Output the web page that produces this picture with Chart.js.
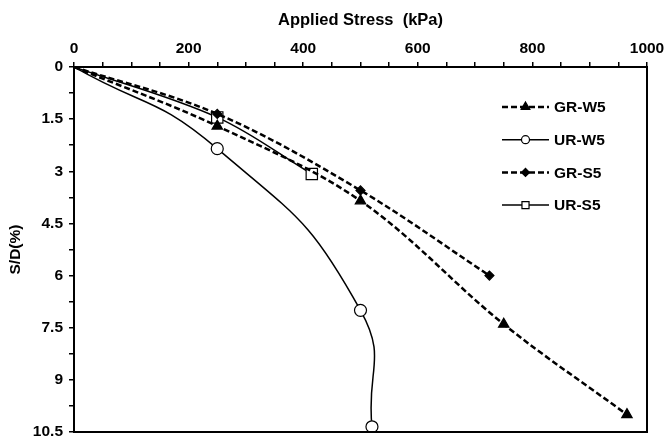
<!DOCTYPE html>
<html>
<head>
<meta charset="utf-8">
<script src="https://cdn.jsdelivr.net/npm/chart.js@4.4.0/dist/chart.umd.min.js"></script>
<style>
  html, body { margin: 0; padding: 0; background: #fff; overflow: hidden; }
  #wrap { position: relative; width: 666px; height: 437px; }
  canvas { display: block; }
  #frame { position: absolute; border: 2px solid #000; box-sizing: border-box; pointer-events: none; }
</style>
</head>
<body>
<div id="wrap">
  <canvas id="chart" width="666" height="437"></canvas>
  <div id="frame"></div>
</div>
<script>
// values
const seriesNames = ['GR-W5', 'UR-W5', 'GR-S5', 'UR-S5'];

const grW5Stress = [0, 250, 500, 750, 965];
const grW5Settle = [0, 1.7, 3.85, 7.4, 10.0];

const urW5Stress = [0, 250, 500, 520];
const urW5Settle = [0, 2.35, 7.0, 10.35];

const grS5Stress = [0, 250, 500, 725];
const grS5Settle = [0, 1.35, 3.55, 6.0];

const urS5Stress = [0, 250, 415];
const urS5Settle = [0, 1.45, 3.08];

const xTickLabels = [0, 200, 400, 600, 800, 1000];
const yTickLabels = [0, 1.5, 3, 4.5, 6, 7.5, 9, 10.5];

const FONT = '"Liberation Sans", Arial, sans-serif';

function toPoints(xs, ys) {
  return xs.map((x, i) => ({ x: x, y: ys[i] }));
}

// marker looks, reused by the legend
const styles = [
  { dash: [6, 3], width: 2.5, point: 'triangle', radius: 6, fill: '#000', legendRadius: 5, tension: 0.35 },
  { dash: [], width: 1.5, point: 'circle', radius: 6, fill: '#fff', legendRadius: 4, tension: 0.5 },
  { dash: [6, 3], width: 2.5, point: 'rectRot', radius: 4.5, fill: '#000', legendRadius: 4, tension: 0.35 },
  { dash: [], width: 1.5, point: 'rect', radius: 8, fill: '#fff', legendRadius: 5, tension: 0.35 }
];

const seriesData = [
  toPoints(grW5Stress, grW5Settle),
  toPoints(urW5Stress, urW5Settle),
  toPoints(grS5Stress, grS5Settle),
  toPoints(urS5Stress, urS5Settle)
];

const datasets = seriesNames.map((name, i) => ({
  label: name,
  data: seriesData[i],
  showLine: true,
  tension: styles[i].tension,
  borderColor: '#000',
  borderWidth: styles[i].width,
  borderDash: styles[i].dash,
  pointStyle: styles[i].point,
  pointRadius: ctx => ctx.dataIndex === 0 ? 0 : styles[i].radius,
  pointBackgroundColor: styles[i].fill,
  pointBorderColor: '#000',
  pointBorderWidth: 1.2
}));

// right and bottom sides of the frame + Excel-like legend
const framePlugin = {
  id: 'frameAndLegend',
  afterDraw(chart) {
    const ctx = chart.ctx;
    const a = chart.chartArea;
    ctx.save();
    ctx.fillStyle = '#000';
    ctx.fillRect(Math.round(a.right) - 1, Math.round(a.top) - 1, 2, Math.round(a.bottom - a.top) + 2);
    ctx.fillRect(Math.round(a.left) - 1, Math.round(a.bottom) - 1, Math.round(a.right - a.left) + 2, 2);
    ctx.restore();

    // same box as a page element
    const f = document.getElementById('frame');
    f.style.left = (a.left - 1) + 'px';
    f.style.top = (a.top - 1) + 'px';
    f.style.width = (a.right - a.left + 2) + 'px';
    f.style.height = (a.bottom - a.top + 2) + 'px';

    const x0 = 502, x1 = 549, y0 = 107, step = 32.7;
    seriesNames.forEach((name, i) => {
      const s = styles[i];
      const y = y0 + i * step;
      ctx.save();
      ctx.strokeStyle = '#000';
      ctx.lineWidth = s.width;
      ctx.setLineDash(s.dash);
      ctx.beginPath();
      ctx.moveTo(x0, y);
      ctx.lineTo(x1, y);
      ctx.stroke();
      ctx.setLineDash([]);
      ctx.fillStyle = s.fill;
      ctx.lineWidth = 1.2;
      Chart.helpers.drawPoint(ctx, { pointStyle: s.point, radius: s.legendRadius, rotation: 0, borderWidth: 1.2 }, (x0 + x1) / 2, y);
      ctx.fillStyle = '#000';
      ctx.font = 'bold 15.5px ' + FONT;
      ctx.textBaseline = 'middle';
      ctx.textAlign = 'left';
      ctx.fillText(name, 554, y + 1);
      ctx.restore();
    });
  }
};

new Chart(document.getElementById('chart'), {
  type: 'scatter',
  data: { datasets: datasets },
  plugins: [framePlugin],
  options: {
    responsive: false,
    animation: false,
    devicePixelRatio: 1,
    layout: { autoPadding: false, padding: { left: 0, top: 0, right: 19, bottom: 5 } },
    plugins: {
      legend: { display: false },
      tooltip: { enabled: false }
    },
    scales: {
      x: {
        type: 'linear',
        position: 'top',
        min: 0,
        max: 1000,
        afterFit: scale => {
          scale.height = 67;
          scale.paddingLeft = 0;
          scale.paddingRight = 0;
        },
        title: {
          display: true,
          text: 'Applied Stress  (kPa)',
          color: '#000',
          font: { family: FONT, size: 16.5, weight: 'bold' },
          padding: { top: 11, bottom: 0 }
        },
        ticks: {
          stepSize: 50,
          autoSkip: false,
          maxRotation: 0,
          color: '#000',
          padding: 4,
          font: { family: FONT, size: 15.5, weight: 'bold' },
          callback: v => xTickLabels.includes(v) ? String(v) : ''
        },
        grid: { drawOnChartArea: false, drawTicks: true, tickLength: 5, color: '#000', lineWidth: 1.5 },
        border: { display: true, color: '#000', width: 2 }
      },
      y: {
        type: 'linear',
        reverse: true,
        min: 0,
        max: 10.5,
        afterFit: scale => {
          scale.width = 74;
          scale.paddingTop = 0;
          scale.paddingBottom = 0;
        },
        title: {
          display: true,
          text: 'S/D(%)',
          color: '#000',
          font: { family: FONT, size: 15.5, weight: 'bold' },
          padding: { top: 6, bottom: 0 }
        },
        ticks: {
          stepSize: 0.75,
          autoSkip: false,
          color: '#000',
          padding: 6,
          font: { family: FONT, size: 15.5, weight: 'bold' },
          callback: v => yTickLabels.some(t => Math.abs(t - v) < 1e-6) ? String(v) : ''
        },
        grid: { drawOnChartArea: false, drawTicks: true, tickLength: 5, color: '#000', lineWidth: 1.5 },
        border: { display: true, color: '#000', width: 2 }
      }
    }
  }
});
</script>
</body>
</html>
